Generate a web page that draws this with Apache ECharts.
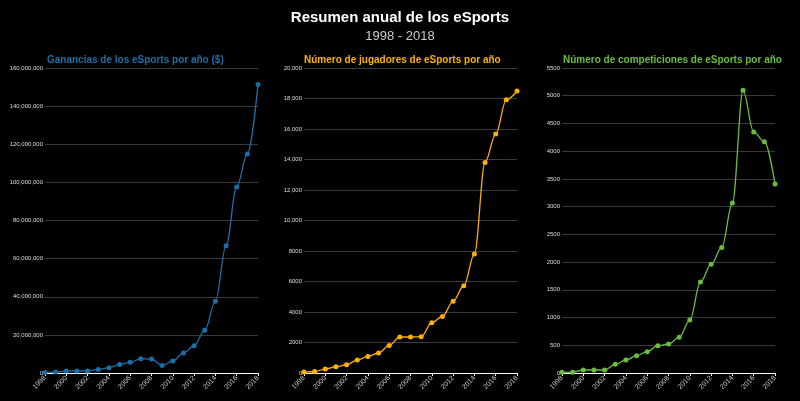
<!DOCTYPE html>
<html>
<head>
<meta charset="utf-8">
<script src="https://cdn.jsdelivr.net/npm/echarts@6/dist/echarts.min.js"></script>
<style>
  html, body { margin: 0; padding: 0; background: #000; }
  #chart { width: 800px; height: 401px; }
</style>
</head>
<body>
<div id="chart"></div>
<script>
const years = [1998, 1999, 2000, 2001, 2002, 2003, 2004, 2005, 2006, 2007, 2008,
               2009, 2010, 2011, 2012, 2013, 2014, 2015, 2016, 2017, 2018];

// Ganancias ($)
const earnings = [300000, 500000, 1000000, 1100000, 1000000, 1900000, 2800000, 4400000,
                  5600000, 7500000, 7300000, 4000000, 6300000, 10500000, 14300000,
                  22400000, 37600000, 66800000, 97600000, 114900000, 151300000];

// Jugadores
const players = [60, 100, 260, 410, 540, 850, 1090, 1310, 1810, 2360, 2360, 2380,
                 3300, 3710, 4700, 5720, 7800, 13810, 15670, 17920, 18490];

// Competiciones
const competitions = [12, 15, 54, 54, 54, 156, 234, 312, 384, 492, 523, 643, 955,
                      1641, 1959, 2265, 3066, 5097, 4347, 4172, 3409];

const chartTitles = ['Ganancias de los eSports por año ($)',
                     'Número de jugadores de eSports por año',
                     'Número de competiciones de eSports por año'];
const colors = ['#1b6fa8', '#fcb000', '#6abd3d'];
const yMax = [160000000, 20000, 5500];
const yStep = [20000000, 2000, 500];

const font = 'Liberation Sans, Arial, sans-serif';

const withCommas = (v) => String(v).replace(/\B(?=(\d{3})+(?!\d))/g, ',');
const yFormatters = [
    (v) => withCommas(v),
    (v) => v >= 10000 ? withCommas(v) : String(v),
    (v) => String(v)
];

const panels = [
    {left: 45, right: 542, titleLeft: 47},
    {left: 304, right: 283, titleLeft: 304},
    {left: 562, right: 25, titleLeft: 563}
];
const seriesData = [earnings, players, competitions];

const myChart = echarts.init(document.getElementById('chart'));

const option = {
    animation: false,
    backgroundColor: '#000',
    title: [
        {
            text: 'Resumen anual de los eSports',
            subtext: '1998 - 2018',
            left: 'center',
            top: 5,
            itemGap: 5,
            textStyle: {color: '#fff', fontSize: 15, fontWeight: 'bold', fontFamily: font},
            subtextStyle: {color: '#ccc', fontSize: 13, fontFamily: font}
        },
        ...panels.map((p, i) => ({
            text: chartTitles[i],
            left: p.titleLeft,
            top: 55,
            padding: 0,
            textStyle: {color: colors[i], fontSize: 10, fontWeight: 'bold', fontFamily: font}
        }))
    ],
    grid: panels.map(p => ({
        left: p.left,
        right: p.right,
        top: 68,
        bottom: 28,
        containLabel: false
    })),
    xAxis: panels.map((p, i) => ({
        type: 'value',
        gridIndex: i,
        min: 1998,
        max: 2018,
        interval: 2,
        axisLine: {show: true, lineStyle: {color: '#fff', width: 1}},
        axisTick: {show: true, length: 3, lineStyle: {color: '#fff'}},
        axisLabel: {
            color: '#ccc',
            fontSize: 7,
            fontFamily: font,
            rotate: 45,
            margin: 4,
            formatter: (v) => String(v)
        },
        splitLine: {show: false}
    })),
    yAxis: panels.map((p, i) => ({
        type: 'value',
        gridIndex: i,
        min: 0,
        max: yMax[i],
        interval: yStep[i],
        axisLine: {show: false},
        axisTick: {show: false},
        axisLabel: {
            color: '#ddd',
            fontSize: 6,
            fontFamily: font,
            margin: 2,
            formatter: yFormatters[i]
        },
        splitLine: {lineStyle: {color: '#3a3a3a', width: 1}}
    })),
    series: seriesData.map((data, i) => ({
        type: 'line',
        xAxisIndex: i,
        yAxisIndex: i,
        data: years.map((y, k) => [y, data[k]]),
        smooth: 0.35,
        smoothMonotone: 'x',
        symbol: 'circle',
        symbolSize: 5,
        itemStyle: {color: colors[i]},
        lineStyle: {color: colors[i], width: 1.3}
    }))
};

myChart.setOption(option);
</script>
</body>
</html>
